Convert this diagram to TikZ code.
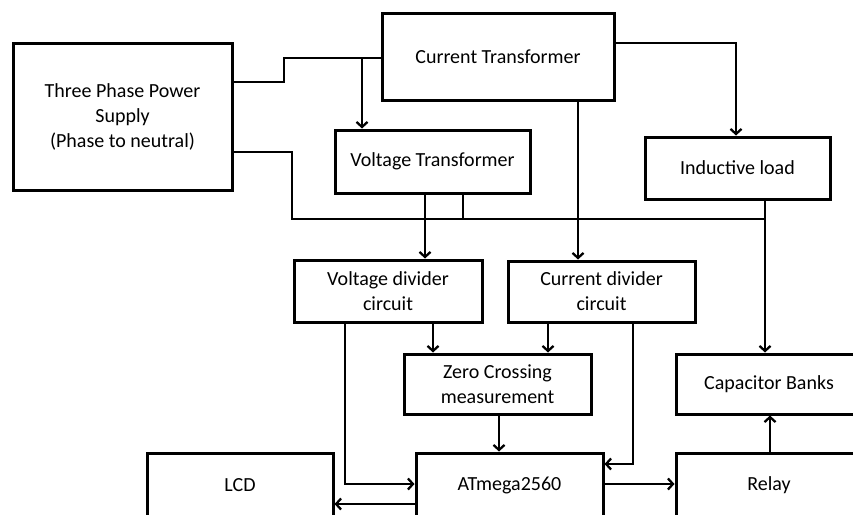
\documentclass[tikz,border=0pt]{standalone}
\usepackage{fontspec}
\setmainfont{Carlito}
\usetikzlibrary{arrows.meta}
\begin{document}
\begin{tikzpicture}[x=1pt,y=-1pt,
  box/.style={draw,line width=3pt,inner sep=0pt,align=center,font=\fontsize{20}{25}\selectfont},
  conn/.style={line width=2.5pt},
  arr/.style={conn,-{Straight Barb[length=5pt,width=11pt,line width=2.3pt]}}]
\useasboundingbox (0,0) rectangle (853,514);
\clip (0,0) rectangle (853,514);
\node[box,minimum width=219pt,minimum height=147pt] (tp) at (122.5,116.5) {Three Phase Power\\Supply\\(Phase to neutral)};
\node[box,minimum width=232pt,minimum height=87pt] (ct) at (498,56.5) {Current Transformer};
\node[box,minimum width=195pt,minimum height=63pt] (vt) at (432.5,161.5) {Voltage Transformer};
\node[box,minimum width=185pt,minimum height=62pt] (il) at (737.5,168) {Inductive load};
\node[box,minimum width=188pt,minimum height=62pt] (vd) at (388,291) {Voltage divider\\circuit};
\node[box,minimum width=187pt,minimum height=61pt] (cd) at (601.5,291.5) {Current divider\\circuit};
\node[box,minimum width=187pt,minimum height=60pt] (zc) at (497.5,384) {Zero Crossing\\measurement};
\node[box,minimum width=186pt,minimum height=60pt] (cb) at (769,384) {Capacitor Banks};
\node[box,minimum width=186pt,minimum height=64pt] (lcd) at (240,485) {LCD};
\node[box,minimum width=187pt,minimum height=64pt] (at) at (509.5,485) {ATmega2560};
\node[box,minimum width=186pt,minimum height=64pt] (rl) at (769,485) {Relay};
% helper coordinates
\coordinate (c1) at (284,82); \coordinate (c2) at (284,58);
\coordinate (c3) at (362,58);
\coordinate (c4) at (292,152); \coordinate (c5) at (292,219); \coordinate (c6) at (765,219);
\coordinate (c7) at (463,219);
\coordinate (c8) at (736,43);
\coordinate (c9) at (578,0);
\coordinate (c10) at (425,0);
\coordinate (c11) at (433,0);
\coordinate (c12) at (548,0);
\coordinate (c13) at (345,484);
\coordinate (c14) at (499,0);
\coordinate (c15) at (633,464);
\coordinate (c16) at (0,504);
\coordinate (c17) at (0,484);
\coordinate (c18) at (770,0);
% connectors
\draw[conn] (tp.east |- c1) -- (c1) -- (c2) -- (ct.west |- c2);
\draw[arr] (c3) -- (vt.north -| c3);
\draw[conn] (tp.east |- c4) -- (c4) -- (c5) -- (c6);
\draw[conn] (vt.south -| c7) -- (c7);
\draw[arr] (il.south -| c6) -- (cb.north -| c6);
\draw[arr] (ct.east |- c8) -- (c8) -- (il.north -| c8);
\draw[arr] (ct.south -| c9) -- (cd.north -| c9);
\draw[arr] (vt.south -| c10) -- (vd.north -| c10);
\draw[arr] (vd.south -| c11) -- (zc.north -| c11);
\draw[arr] (cd.south -| c12) -- (zc.north -| c12);
\draw[arr] (vd.south -| c13) -- (c13) -- (at.west |- c13);
\draw[arr] (zc.south -| c14) -- (at.north -| c14);
\draw[arr] (cd.south -| c15) -- (c15) -- (at.east |- c15);
\draw[arr] (at.west |- c16) -- (lcd.east |- c16);
\draw[arr] (at.east |- c17) -- (rl.west |- c17);
\draw[arr] (rl.north -| c18) -- (cb.south -| c18);
\end{tikzpicture}
\end{document}
